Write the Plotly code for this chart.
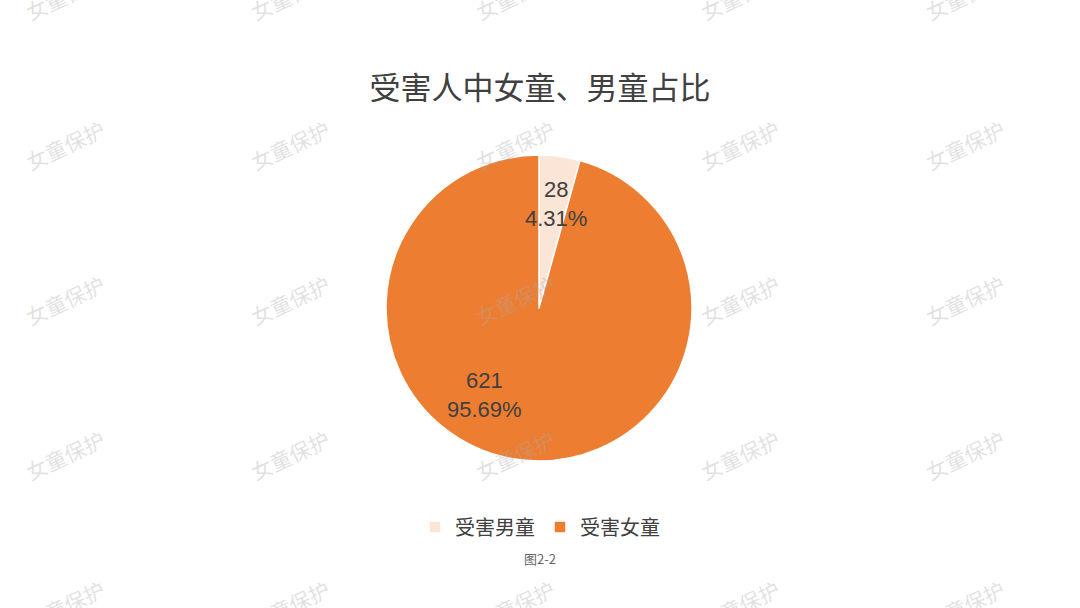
import math
import plotly.graph_objects as go

title = "受害人中女童、男童占比"
categories = ["受害男童", "受害女童"]
values = [28, 621]
percent_labels = ["4.31%", "95.69%"]
colors = ["#fbe5d6", "#ed7d31"]
caption = "图2-2"
watermark = "女童保护"

W, H = 1080, 608
cx, cy, R = 539, 308, 153

fig = go.Figure()
fig.add_trace(go.Pie(
    labels=categories, values=values, sort=False, direction="clockwise", rotation=0,
    marker=dict(colors=colors, line=dict(color="white", width=1.5)),
    textinfo="none", hoverinfo="label+value+percent",
    domain=dict(x=[(cx - R) / W, (cx + R) / W], y=[(H - cy - R) / H, (H - cy + R) / H]),
))

# data labels (value + percent) placed in each slice
label_r = [0.69, 0.67]
label_angle = [9.2, 211.8]  # degrees clockwise from 12 o'clock
for i, v in enumerate(values):
    ang = math.radians(label_angle[i])
    x = cx + label_r[i] * R * math.sin(ang)
    y = cy - label_r[i] * R * math.cos(ang)
    fig.add_annotation(x=x / W, y=1 - y / H, xref="paper", yref="paper",
                       xanchor="center", yanchor="middle",
                       text=f"{v}<br>{percent_labels[i]}", showarrow=False,
                       font=dict(size=22, color="#404040", family="Liberation Sans, Arial"),
                       align="center")

# watermarks
for row_y in [-5, 145, 300, 455, 605]:
    for col_x in [65, 290, 515, 740, 965]:
        fig.add_annotation(x=col_x / W, y=1 - row_y / H, xref="paper", yref="paper",
                           xanchor="center", yanchor="middle",
                           text=watermark, showarrow=False, textangle=-25,
                           font=dict(size=21, color="rgba(170,170,170,0.35)",
                                     family="Noto Sans CJK SC"))

fig.add_annotation(x=0.5, y=1 - 558 / H, xref="paper", yref="paper", text=caption,
                   xanchor="center", yanchor="middle",
                   showarrow=False, font=dict(size=13, color="#666666", family="Noto Sans CJK SC"))

fig.update_layout(
    width=W, height=H,
    paper_bgcolor="white", plot_bgcolor="white",
    margin=dict(l=0, r=0, t=0, b=0),
    title=dict(text=title, x=0.5, xanchor="center", y=1 - 88 / H, yanchor="middle",
               font=dict(size=31, color="#404040", family="Noto Sans CJK SC")),
    font=dict(family="Noto Sans CJK SC"),
    showlegend=True,
    legend=dict(orientation="h", x=0.5, xanchor="center", y=1 - 527 / H, yanchor="middle",
                font=dict(size=20, color="#404040", family="Noto Sans CJK SC"),
                itemwidth=30, traceorder="normal"),
)

fig.write_html("out.html", config={"displayModeBar": False},
               post_script="document.body.style.margin='0';")
